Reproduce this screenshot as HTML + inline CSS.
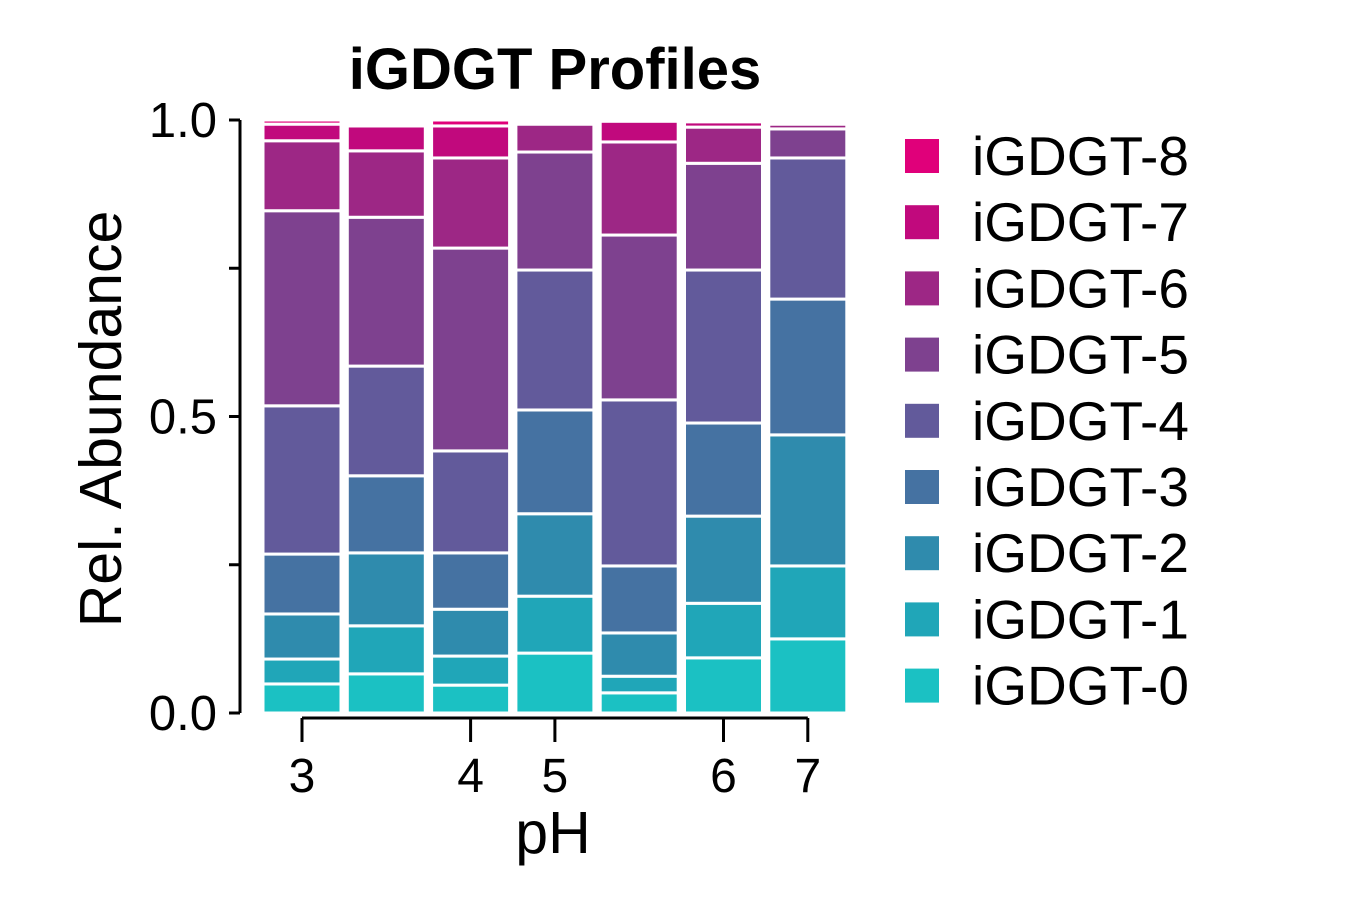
<!DOCTYPE html>
<html><head><meta charset="utf-8"><style>
html,body{margin:0;padding:0;background:#fff;}
svg{display:block;font-family:"Liberation Sans",Arial,sans-serif;}
</style></head><body>
<svg id="chart" width="1350" height="900"></svg>
<script>
const categories = ["3","3.5","4","5","5.5","6","7"];
const tickLabels = ["3","","4","5","","6","7"];
const seriesNames = ["iGDGT-0","iGDGT-1","iGDGT-2","iGDGT-3","iGDGT-4","iGDGT-5","iGDGT-6","iGDGT-7","iGDGT-8"];
const s0 = [0.049,0.066,0.047,0.101,0.034,0.093,0.125];
const s1 = [0.042,0.081,0.049,0.096,0.028,0.092,0.123];
const s2 = [0.076,0.123,0.079,0.139,0.073,0.147,0.221];
const s3 = [0.101,0.130,0.095,0.175,0.113,0.157,0.229];
const s4 = [0.250,0.185,0.172,0.236,0.280,0.258,0.238];
const s5 = [0.329,0.251,0.342,0.199,0.278,0.180,0.049];
const s6 = [0.118,0.112,0.152,0.047,0.157,0.061,0.008];
const s7 = [0.028,0.042,0.054,0.005,0.035,0.009,0.003];
const s8 = [0.007,0.003,0.010,0.002,0.002,0.003,0.004];
const yTicks = [0,0.25,0.5,0.75,1];
const yTickLabels = ["0.0","","0.5","","1.0"];
const series = [s0,s1,s2,s3,s4,s5,s6,s7,s8];
const colors = ["#1bc1c3","#20a6b8","#2f8bad","#4572a2","#625a9b","#7e418f","#9d2785","#c1097d","#e0007a"];

const NS="http://www.w3.org/2000/svg";
const svg=document.getElementById('chart');
function mk(t,a,p){const e=document.createElementNS(NS,t);for(const k in a)e.setAttribute(k,a[k]);(p||svg).appendChild(e);return e;}
const y0=713,yH=593;
const yScale=v=>y0-v*yH;
const bandStart=263,bandStep=84.3,barW=78;
const xScale=i=>bandStart+i*bandStep;

let t=mk('text',{x:555,y:89,'text-anchor':'middle','font-size':58,'font-weight':'bold',fill:'#000'});
t.textContent="iGDGT Profiles";



const gBars=mk('g',{});


categories.forEach((c,i)=>{
  let cum=0;
  series.forEach((s,k)=>{
    const v=s[i];
    const r=mk('rect',{x:xScale(i),y:yScale(cum+v),width:barW,height:v*yH,fill:colors[k],stroke:'#fff','stroke-width':3},gBars);
    
    
    cum+=v;
  });
});

const gy=mk('g',{});


mk('line',{x1:240,y1:yScale(1),x2:240,y2:yScale(0),stroke:'#000','stroke-width':3},gy);
yTicks.forEach((v,i)=>{
  mk('line',{x1:229,y1:yScale(v),x2:240,y2:yScale(v),stroke:'#000','stroke-width':3},gy);
  if(yTickLabels[i]){
    const l=mk('text',{x:217,y:yScale(v)+17,'text-anchor':'end','font-size':49,fill:'#000'},gy);
    l.textContent=yTickLabels[i];
    
    
  }
});
const yt=mk('text',{x:0,y:0,transform:'translate(121,419) rotate(-90)','text-anchor':'middle','font-size':59,fill:'#000'});
yt.textContent="Rel. Abundance";



const gx=mk('g',{});


const labeled=[];
tickLabels.forEach((l,i)=>{if(l)labeled.push(i);});
const xc=i=>xScale(i)+barW/2;
mk('line',{x1:xc(labeled[0]),y1:718,x2:xc(labeled[labeled.length-1]),y2:718,stroke:'#000','stroke-width':3},gx);
labeled.forEach(i=>{
  mk('line',{x1:xc(i),y1:718,x2:xc(i),y2:742,stroke:'#000','stroke-width':3},gx);
  const l=mk('text',{x:xc(i),y:792,'text-anchor':'middle','font-size':48,fill:'#000'},gx);
  l.textContent=tickLabels[i];
  
  
});
const xt=mk('text',{x:553,y:853,'text-anchor':'middle','font-size':59,fill:'#000'});
xt.textContent="pH";



const gl=mk('g',{});


for(let k=seriesNames.length-1,row=0;k>=0;k--,row++){
  const cy=156+row*66.2;
  const e=mk('g',{},gl);
  
  
  mk('rect',{x:905,y:cy-17,width:34,height:34,fill:colors[k]},e);
  const l=mk('text',{x:972,y:cy+19,'font-size':55,fill:'#000'},e);
  l.textContent=seriesNames[k];
}
</script>
</body></html>
